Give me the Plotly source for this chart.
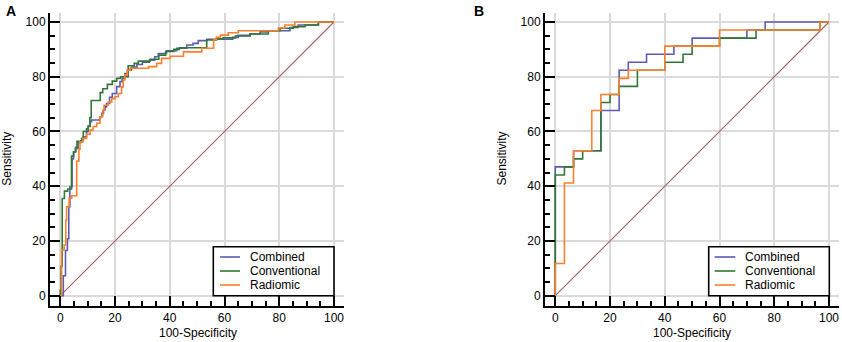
import plotly.graph_objects as go

# ---------------- Panel A : step vertices (100-Specificity, Sensitivity) ----------------
a_combined_x = [0, 1.1, 1.9, 2.6, 3.1, 3.5, 4.3, 4.8, 5.5, 6.5, 7.5, 8.4, 9.6, 10.2, 10.9, 11.4,
                14.5, 15.2, 15.8, 16.3, 16.9, 18.0, 19.0, 20.6, 21.8, 22.6, 23.6, 24.5, 26.0, 28.0,
                30.0, 32.5, 34.5, 35.8, 38.8, 42.5, 46.2, 48.5, 50.4, 53.5, 63.0, 65.0, 69.3, 73.0,
                76.0, 83.9, 86.9, 94.3, 100]
a_combined_y = [0, 7.3, 16.5, 20.8, 32.5, 39.8, 50.0, 52.5, 53.8, 55.9, 56.6, 58.1, 60.0, 61.8, 63.6, 64.2,
                65.4, 66.6, 67.8, 69.0, 70.2, 72.5, 73.9, 76.4, 78.2, 79.4, 81.2, 82.4, 83.5, 84.5,
                85.3, 86.0, 87.3, 88.5, 89.5, 90.4, 91.6, 92.2, 93.2, 93.7, 94.4, 95.1, 95.6, 96.4,
                96.8, 98.0, 98.9, 100, 100]

a_conventional_x = [0, 0, 0.3, 0.7, 1.5, 2.7, 4.1, 4.9, 5.7, 6.1, 7.8, 8.4, 9.6, 10.2, 10.8, 11.3,
                    14.6, 15.5, 17.2, 19.0, 20.6, 22.0, 24.8, 27.0, 28.5, 32.8, 36.0, 38.5, 41.5, 43.5,
                    53.5, 57.1, 59.5, 64.0, 69.3, 76.0, 80.3, 85.1, 89.4, 94.3, 100]
a_conventional_y = [0, 2.0, 10.8, 35.5, 38.2, 39.0, 51.0, 52.6, 54.2, 56.4, 57.5, 60.0, 61.0, 62.0, 65.0, 71.3,
                    74.2, 75.6, 77.2, 78.4, 79.4, 80.0, 84.0, 84.9, 85.7, 86.4, 87.9, 89.2, 90.0, 90.6,
                    93.4, 93.9, 94.2, 94.9, 95.6, 96.8, 97.7, 98.3, 98.9, 100, 100]

a_radiomic_x = [0, 0.5, 1.4, 2.0, 2.3, 3.2, 4.2, 6.0, 6.8, 7.2, 8.2, 9.6, 10.9, 12.0, 13.3, 14.5,
                15.5, 16.0, 17.5, 18.8, 20.0, 21.2, 22.4, 23.0, 23.6, 24.5, 25.5, 32.2, 35.2, 37.0,
                40.1, 45.0, 51.7, 56.0, 57.0, 58.5, 61.4, 65.0, 79.7, 82.0, 85.7, 100]
a_radiomic_y = [0, 16.7, 18.5, 27.6, 32.5, 35.6, 36.5, 49.2, 53.5, 56.2, 57.5, 59.0, 60.5, 61.8, 63.0, 65.4,
                67.8, 69.6, 70.8, 72.0, 72.7, 73.9, 76.3, 78.8, 80.6, 82.4, 83.1, 83.7, 84.9, 86.7,
                87.5, 89.1, 90.4, 93.6, 94.4, 95.2, 96.1, 96.8, 97.8, 98.9, 100, 100]

# ---------------- Panel B ----------------
b_combined_x = [0, 0, 6.67, 16.67, 23.33, 26.67, 33.33, 43.33, 50, 70, 76.67, 100]
b_combined_y = [0, 47.06, 52.94, 67.65, 82.35, 85.29, 88.24, 91.18, 94.12, 97.06, 100, 100]

b_conventional_x = [0, 0, 3.33, 6.67, 10, 16.67, 20, 23.33, 30, 40, 46.67, 50, 60, 73.33, 96.67, 100]
b_conventional_y = [0, 44.12, 47.06, 50, 52.94, 70.59, 73.53, 76.47, 82.35, 85.29, 88.24, 91.18,
                    94.12, 97.06, 100, 100]

b_radiomic_x = [0, 0, 3.33, 6.67, 13.33, 16.67, 23.33, 26.67, 40, 60, 96.67, 100]
b_radiomic_y = [0, 11.76, 41.18, 52.94, 67.65, 73.53, 79.41, 82.35, 91.18, 97.06, 100, 100]

chance_x = [0, 100]
chance_y = [0, 100]

series_names = ["Combined", "Conventional", "Radiomic"]
series_colors = ["#5b5bb5", "#2e7a34", "#ff7f2a"]

W, H = 842, 342
FONT = "Liberation Sans, Arial, sans-serif"

fig = go.Figure()

panels = [
    ("x", "y", [(a_combined_x, a_combined_y), (a_conventional_x, a_conventional_y),
                (a_radiomic_x, a_radiomic_y)]),
    ("x2", "y2", [(b_combined_x, b_combined_y), (b_conventional_x, b_conventional_y),
                  (b_radiomic_x, b_radiomic_y)]),
]

for xa, ya, curves in panels:
    fig.add_trace(go.Scatter(x=chance_x, y=chance_y, mode="lines", xaxis=xa, yaxis=ya,
                             line=dict(color="#a0625c", width=1.1), showlegend=False,
                             hoverinfo="skip"))
    for (cx, cy), name, col in zip(curves, series_names, series_colors):
        fig.add_trace(go.Scatter(x=cx, y=cy, mode="lines", name=name, xaxis=xa, yaxis=ya,
                                 line=dict(color=col, width=1.6, shape="hv"), showlegend=False))

axis_common = dict(
    dtick=20, tick0=0, showgrid=True, gridcolor="#dadada", gridwidth=1.5, zeroline=False,
    showline=True, linecolor="black", linewidth=2,
    ticks="inside", ticklen=10, tickwidth=2, tickcolor="black",
    minor=dict(dtick=5, tick0=0, ticks="inside", ticklen=5, tickwidth=1.5,
               tickcolor="black", showgrid=False),
    tickfont=dict(size=12, color="black", family=FONT), fixedrange=True,
)
xr = [-3.76, 103.65]
yr = [-3.65, 103.4]
ydom = [(H - 305.7) / H, (H - 12.7) / H]

fig.update_layout(
    width=W, height=H, autosize=False,
    margin=dict(l=0, r=0, t=0, b=0),
    paper_bgcolor="white", plot_bgcolor="white",
    font=dict(family=FONT, size=12, color="black"),
    xaxis=dict(domain=[50 / W, 344 / W], range=xr, anchor="y", **axis_common),
    yaxis=dict(domain=ydom, range=yr, anchor="x", **axis_common),
    xaxis2=dict(domain=[545 / W, 839 / W], range=xr, anchor="y2", **axis_common),
    yaxis2=dict(domain=ydom, range=yr, anchor="x2", **axis_common),
    showlegend=False,
)

annots = [
    dict(text="<b>A</b>", x=10.5 / W, y=1 - 11 / H, font=dict(size=14)),
    dict(text="<b>B</b>", x=478.7 / W, y=1 - 11 / H, font=dict(size=14)),
    dict(text="Sensitivity", x=6.7 / W, y=1 - 159 / H, textangle=-90, font=dict(size=12)),
    dict(text="Sensitivity", x=501.5 / W, y=1 - 159 / H, textangle=-90, font=dict(size=12)),
    dict(text="100-Specificity", x=197.5 / W, y=1 - 333.3 / H, font=dict(size=12)),
    dict(text="100-Specificity", x=692.3 / W, y=1 - 333.3 / H, font=dict(size=12)),
]
for a in annots:
    fig.add_annotation(xref="paper", yref="paper", showarrow=False, xanchor="center",
                       yanchor="middle", **a)

# Legend boxes (one per panel), drawn in pixel positions converted to paper coordinates
legend_boxes = [(213.3, 334.0, 220.0, 240.0, 248.0), (708.7, 829.3, 714.7, 735.3, 743.3)]
legend_rows = [257.0, 271.0, 285.0]
for bx0, bx1, lx0, lx1, tx in legend_boxes:
    fig.add_shape(type="rect", xref="paper", yref="paper",
                  x0=bx0 / W, x1=bx1 / W, y0=1 - 295.7 / H, y1=1 - 246.7 / H,
                  line=dict(color="black", width=1.6), fillcolor="white", layer="above")
    for ry, name, col in zip(legend_rows, series_names, series_colors):
        fig.add_shape(type="line", xref="paper", yref="paper",
                      x0=lx0 / W, x1=lx1 / W, y0=1 - ry / H, y1=1 - ry / H,
                      line=dict(color=col, width=1.6), layer="above")
        fig.add_annotation(xref="paper", yref="paper", x=tx / W, y=1 - ry / H, text=name,
                           showarrow=False, xanchor="left", yanchor="middle",
                           font=dict(size=12, color="black", family=FONT))

fig.write_html("out.html", config={"displayModeBar": False},
               post_script="document.body.style.margin='0';")
